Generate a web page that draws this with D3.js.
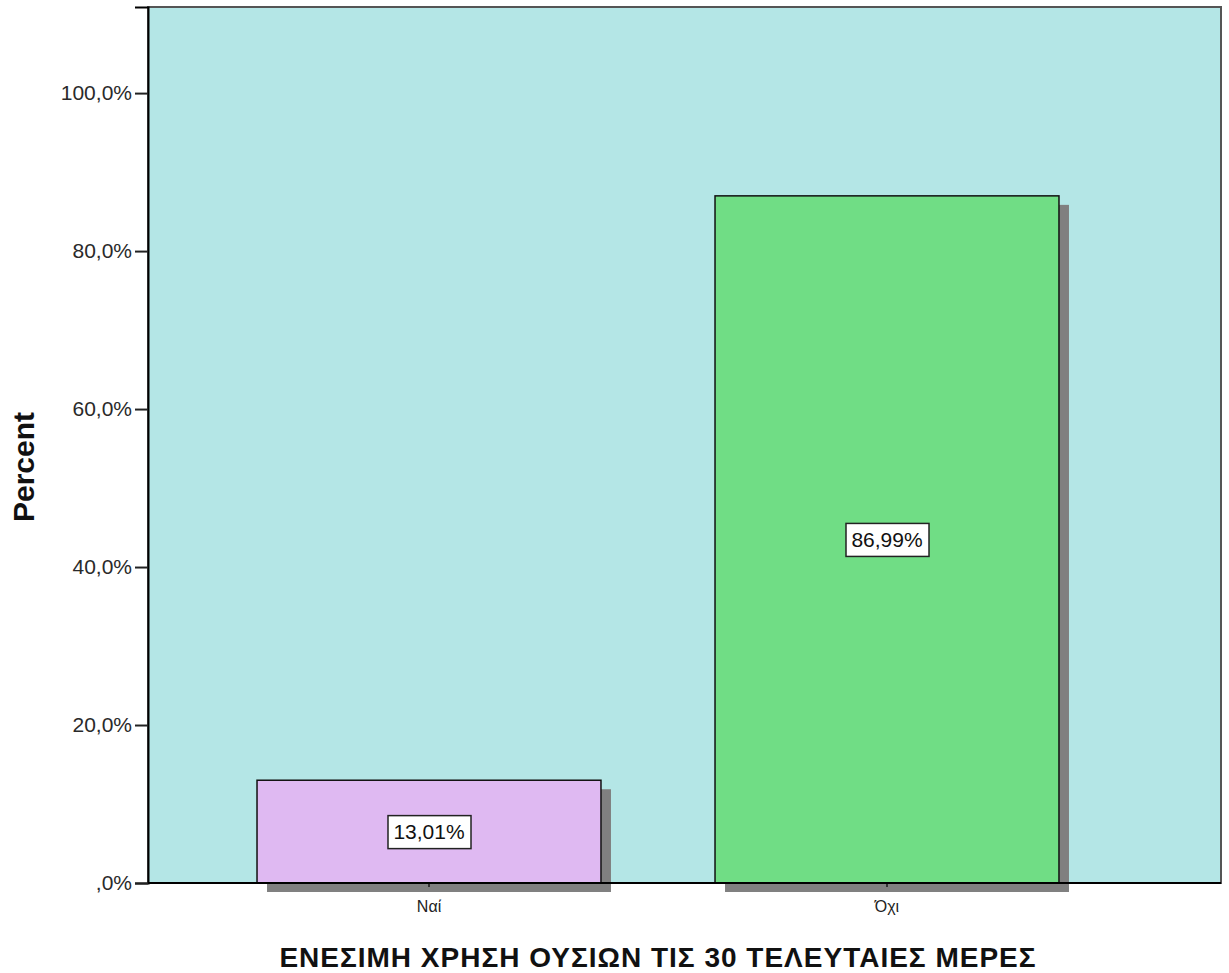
<!DOCTYPE html>
<html><head><meta charset="utf-8">
<script src="https://cdn.jsdelivr.net/npm/d3@7"></script>
<style>body{margin:0;background:#fff;} text{font-family:"Liberation Sans",Arial,sans-serif;}</style>
</head><body>
<svg id="c" width="1229" height="973"></svg>
<script>
const categories = ["Ναί", "Όχι"];
const values = [13.01, 86.99];
const valueLabels = ["13,01%", "86,99%"];
const barColors = ["#dfb9f2", "#70dd85"];
const yTicks = [0, 20, 40, 60, 80, 100];
const yTickLabels = [",0%", "20,0%", "40,0%", "60,0%", "80,0%", "100,0%"];
const yTitle = "Percent";
const xTitle = "ΕΝΕΣΙΜΗ ΧΡΗΣΗ ΟΥΣΙΩΝ ΤΙΣ 30 ΤΕΛΕΥΤΑΙΕΣ ΜΕΡΕΣ";

const svg = d3.select("#c");
const plot = {left: 148, top: 7, right: 1221, bottom: 883};
const y = d3.scaleLinear().domain([0, 110.9]).range([plot.bottom, plot.top]);
const x = d3.scaleBand().domain(categories).range([200, 1116]).paddingInner(0.249).paddingOuter(0.1245);

// background
svg.append("rect").attr("x", plot.left).attr("y", plot.top)
  .attr("width", plot.right - plot.left).attr("height", plot.bottom - plot.top)
  .attr("fill", "#b4e6e6").attr("stroke", "#555").attr("stroke-width", 2);

// shadows
svg.selectAll(".shadow").data(values).enter().append("rect")
  .attr("x", (d, i) => x(categories[i]) + 10)
  .attr("y", d => y(d) + 9)
  .attr("width", x.bandwidth())
  .attr("height", d => y(0) - y(d))
  .attr("fill", "#808080");

// bars
svg.selectAll(".bar").data(values).enter().append("rect")
  .attr("x", (d, i) => x(categories[i]))
  .attr("y", d => y(d))
  .attr("width", x.bandwidth())
  .attr("height", d => y(0) - y(d))
  .attr("fill", (d, i) => barColors[i])
  .attr("stroke", "#111").attr("stroke-width", 1.5);

// axes
const yAxis = d3.axisLeft(y).tickValues(yTicks).tickFormat((d, i) => yTickLabels[i]).tickSize(13).tickPadding(3);
const gy = svg.append("g").attr("transform", `translate(${plot.left},0)`).call(yAxis);
gy.select(".domain").attr("stroke", "#000").attr("stroke-width", 2);
gy.selectAll(".tick line").attr("stroke", "#222").attr("stroke-width", 2);
gy.selectAll(".tick text").attr("font-size", 21).attr("fill", "#2a2a2a").attr("font-family", "Liberation Sans, Arial, sans-serif");

const xAxis = d3.axisBottom(x).tickSize(4).tickPadding(14);
const gx = svg.append("g").attr("transform", `translate(0,${plot.bottom})`).call(xAxis);
gx.select(".domain").remove();
gx.selectAll(".tick line").attr("stroke", "#333").attr("stroke-width", 2);
gx.selectAll(".tick text").attr("font-size", 16).attr("fill", "#222").attr("font-family", "Liberation Sans, Arial, sans-serif");
svg.append("line").attr("x1", plot.left).attr("x2", plot.right).attr("y1", plot.bottom).attr("y2", plot.bottom)
  .attr("stroke", "#000").attr("stroke-width", 2);

// value labels
const lab = svg.selectAll(".vl").data(values).enter().append("g")
  .attr("transform", (d, i) => `translate(${x(categories[i]) + x.bandwidth() / 2},${y(d / 2)})`);
lab.append("rect").attr("x", -41).attr("y", -16).attr("width", 83).attr("height", 33)
  .attr("fill", "#fff").attr("stroke", "#222").attr("stroke-width", 1.5);
lab.append("text").attr("text-anchor", "middle").attr("dy", "0.36em")
  .attr("font-size", 21).attr("fill", "#111").text((d, i) => valueLabels[i]);

// titles
svg.append("text").attr("transform", "translate(34,467) rotate(-90)")
  .attr("text-anchor", "middle").attr("font-weight", "bold").attr("font-size", 30).attr("fill", "#111").text(yTitle);
svg.append("text").attr("x", 658).attr("y", 967)
  .attr("text-anchor", "middle").attr("font-weight", "bold").attr("font-size", 28).attr("letter-spacing", 1).attr("fill", "#111").text(xTitle);
</script>
</body></html>
